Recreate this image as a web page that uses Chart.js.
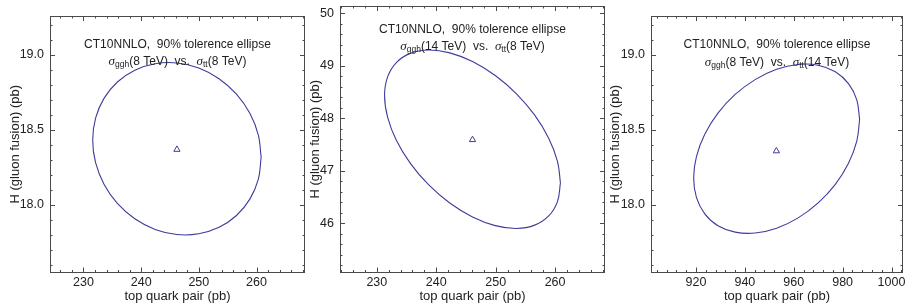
<!DOCTYPE html>
<html lang="en">
<head>
  <meta charset="UTF-8" />
  <title>CT10NNLO 90% tolerance ellipses</title>
  <script src="https://cdn.jsdelivr.net/npm/chart.js"></script>
  <style>
    body {
      margin: 0;
      background: #fff;
      width: 908px;
      height: 304px;
      overflow: hidden;
      position: relative;
    }
    .panel { position: absolute; top: 0; height: 304px; }
    #p1 { left: 0; width: 310px; }
    #p2 { left: 300px; width: 310px; }
    #p3 { left: 600px; width: 308px; }
  </style>
</head>
<body>

<div class="panel" id="p1"><canvas id="c1"></canvas></div>
<div class="panel" id="p2"><canvas id="c2"></canvas></div>
<div class="panel" id="p3"><canvas id="c3"></canvas></div>

<script>
  // panel 1: sigma_ggh(8 TeV) vs sigma_tt(8 TeV)
  const e1X = [260.80, 260.30, 258.84, 256.52, 253.50, 249.98, 246.20, 242.42, 238.90, 235.88, 233.56, 232.10,
               231.60, 232.10, 233.56, 235.88, 238.90, 242.42, 246.20, 249.98, 253.50, 256.52, 258.84, 260.30];
  const e1Y = [18.318, 18.468, 18.611, 18.739, 18.842, 18.913, 18.947, 18.942, 18.899, 18.820, 18.711, 18.579,
               18.432, 18.282, 18.139, 18.011, 17.908, 17.837, 17.803, 17.808, 17.851, 17.930, 18.039, 18.171];
  const c1 = [246.2, 18.37];

  // panel 2: sigma_ggh(14 TeV) vs sigma_tt(8 TeV)
  const e2X = [260.90, 260.40, 258.92, 256.57, 253.50, 249.93, 246.10, 242.27, 238.70, 235.64, 233.28, 231.81,
               231.30, 231.81, 233.28, 235.64, 238.70, 242.27, 246.10, 249.93, 253.50, 256.57, 258.92, 260.40];
  const e2Y = [46.767, 47.179, 47.620, 48.059, 48.467, 48.816, 49.082, 49.247, 49.300, 49.237, 49.062, 48.788,
               48.433, 48.021, 47.580, 47.141, 46.733, 46.384, 46.118, 45.953, 45.900, 45.963, 46.138, 46.412];
  const c2 = [246.1, 47.59];

  // panel 3: sigma_ggh(8 TeV) vs sigma_tt(14 TeV)
  const e3X = [986.95, 985.79, 982.40, 977.01, 969.98, 961.79, 953.00, 944.21, 936.03, 928.99, 923.60, 920.21,
               919.05, 920.21, 923.60, 928.99, 936.03, 944.21, 953.00, 961.79, 969.98, 977.01, 982.40, 985.79];
  const e3Y = [18.570, 18.701, 18.809, 18.888, 18.932, 18.937, 18.905, 18.836, 18.737, 18.612, 18.471, 18.324,
               18.180, 18.049, 17.941, 17.862, 17.819, 17.813, 17.845, 17.914, 18.014, 18.138, 18.279, 18.426];
  const c3 = [952.9, 18.36];

  // tick labels
  const xTicksTT8 = [230, 240, 250, 260];
  const xTicksTT14 = [920, 940, 960, 980, 1000];
  const yTicksH8 = [18.0, 18.5, 19.0];
  const yTicksH14 = [46, 47, 48, 49, 50];

  const titleLine1 = 'CT10NNLO,  90% tolerence ellipse';
  const xTitle = 'top quark pair (pb)';
  const yTitle = 'H (gluon fusion) (pb)';

  const BLUE = '#3d3d99';
  const FRAME = '#4a4a4a';
  const TEXT = '#222';
  const SANS = "'Liberation Sans', Arial, sans-serif";
  const SERIF = "'Liberation Serif', 'Times New Roman', serif";

  function steps(from, to, step) {
    const out = [];
    for (let v = from; v <= to + step / 1000; v += step) out.push(+v.toFixed(6));
    return out;
  }

  // frame with inward ticks on all four sides, plus the in-plot caption
  const framePlugin = {
    id: 'frame',
    afterDraw(chart, args, opts) {
      const {ctx, chartArea: a, scales: {x, y}} = chart;
      ctx.save();
      ctx.strokeStyle = FRAME;
      ctx.lineWidth = 1;
      const seg = (x0, y0, x1, y1) => { ctx.beginPath(); ctx.moveTo(x0, y0); ctx.lineTo(x1, y1); ctx.stroke(); };
      const drawX = (vals, len) => vals.forEach(v => {
        const p = Math.round(x.getPixelForValue(v)) + 0.5;
        if (p <= a.left + 1 || p >= a.right - 1) return;
        seg(p, a.bottom, p, a.bottom - len);
        seg(p, a.top, p, a.top + len);
      });
      const drawY = (vals, len) => vals.forEach(v => {
        const p = Math.round(y.getPixelForValue(v)) + 0.5;
        if (p <= a.top + 1 || p >= a.bottom - 1) return;
        seg(a.left, p, a.left + len, p);
        seg(a.right, p, a.right - len, p);
      });
      drawX(opts.xMinor, 2.5);
      drawX(opts.xMajor, 5);
      drawY(opts.yMinor, 2.5);
      drawY(opts.yMajor, 5);
      ctx.strokeRect(Math.round(a.left) + 0.5, Math.round(a.top) + 0.5,
                     Math.round(a.right - a.left) - 1, Math.round(a.bottom - a.top) - 1);

      // caption
      const cx = (a.left + a.right) / 2;
      ctx.fillStyle = TEXT;
      ctx.textBaseline = 'middle';
      ctx.textAlign = 'left';
      const main = '12px ' + SANS, sub = '8.5px ' + SANS, sig = 'italic 13px ' + SERIF;
      const parts1 = [[titleLine1, main, 0]];
      const parts2 = [['σ', sig, 0], ['ggh', sub, 3], ['(' + opts.ggh + ')  vs.  ', main, 0],
                      ['σ', sig, 0], ['tt', sub, 3], ['(' + opts.tt + ')', main, 0]];
      [[parts1, opts.line1], [parts2, opts.line2]].forEach(([parts, yy]) => {
        let w = 0;
        parts.forEach(p => { ctx.font = p[1]; w += ctx.measureText(p[0]).width; });
        let xx = cx - w / 2;
        parts.forEach(p => {
          ctx.font = p[1];
          ctx.fillText(p[0], xx, yy + p[2]);
          xx += ctx.measureText(p[0]).width;
        });
      });
      ctx.restore();
    }
  };

  function makePanel(id, cfg) {
    const pts = cfg.ex.map((v, i) => ({x: v, y: cfg.ey[i]}));
    pts.push(pts[0]);
    new Chart(document.getElementById(id), {
      type: 'scatter',
      data: {
        datasets: [
          {
            data: pts,
            showLine: true,
            borderColor: BLUE,
            borderWidth: 1.1,
            pointRadius: 0,
            tension: 0.38,
            fill: false
          },
          {
            data: [{x: cfg.c[0], y: cfg.c[1]}],
            pointStyle: 'triangle',
            pointRadius: 3.6,
            borderColor: BLUE,
            backgroundColor: 'rgba(0,0,0,0)',
            borderWidth: 1
          }
        ]
      },
      options: {
        responsive: true,
        maintainAspectRatio: false,
        animation: false,
        devicePixelRatio: 1,
        layout: { padding: { left: 0, right: cfg.padR, top: cfg.padT, bottom: 0 } },
        plugins: {
          legend: { display: false },
          tooltip: { enabled: false },
          frame: {
            xMajor: cfg.xt, xMinor: cfg.xMinor,
            yMajor: cfg.yt, yMinor: cfg.yMinor,
            ggh: cfg.ggh, tt: cfg.tt,
            line1: cfg.line1, line2: cfg.line2
          }
        },
        scales: {
          x: {
            type: 'linear',
            min: cfg.xr[0], max: cfg.xr[1],
            afterBuildTicks: s => { s.ticks = cfg.xt.map(v => ({value: v})); },
            afterFit: s => { s.height = 31.5; s.paddingLeft = 0; s.paddingRight = 0; },
            grid: { display: false, drawTicks: false },
            border: { display: false },
            ticks: {
              padding: 3, color: TEXT, maxRotation: 0, autoSkip: false,
              font: { family: SANS, size: 12.5 },
              callback: v => String(v)
            },
            title: { display: true, text: xTitle, color: TEXT, padding: 0, font: { family: SANS, size: 13 } }
          },
          y: {
            type: 'linear',
            min: cfg.yr[0], max: cfg.yr[1],
            afterBuildTicks: s => { s.ticks = cfg.yt.map(v => ({value: v})); },
            afterFit: s => { s.width = cfg.yw; s.paddingTop = 0; s.paddingBottom = 0; },
            grid: { display: false, drawTicks: false },
            border: { display: false },
            ticks: {
              padding: 6, color: TEXT, autoSkip: false,
              font: { family: SANS, size: 12.5 },
              callback: v => cfg.yFmt(v)
            },
            title: { display: true, text: yTitle, color: TEXT, padding: { top: 8, bottom: 0 }, font: { family: SANS, size: 13 } }
          }
        }
      },
      plugins: [framePlugin]
    });
  }

  makePanel('c1', {
    ex: e1X, ey: e1Y, c: c1,
    xr: [224.2, 268.4], yr: [17.55, 19.26],
    xt: xTicksTT8, xMinor: steps(226, 268, 2),
    yt: yTicksH8, yMinor: steps(17.6, 19.2, 0.1),
    yFmt: v => v.toFixed(1),
    yw: 50, padR: 3, padT: 16,
    ggh: '8 TeV', tt: '8 TeV', line1: 45, line2: 62
  });

  makePanel('c2', {
    ex: e2X, ey: e2Y, c: c2,
    xr: [223.8, 268.4], yr: [45.06, 50.14],
    xt: xTicksTT8, xMinor: steps(224, 268, 2),
    yt: yTicksH14, yMinor: steps(45.2, 50, 0.2),
    yFmt: v => String(v),
    yw: 40, padR: 3, padT: 6,
    ggh: '14 TeV', tt: '8 TeV', line1: 30, line2: 47
  });

  makePanel('c3', {
    ex: e3X, ey: e3Y, c: c3,
    xr: [901.6, 1004.7], yr: [17.55, 19.26],
    xt: xTicksTT14, xMinor: steps(904, 1004, 4),
    yt: yTicksH8, yMinor: steps(17.6, 19.2, 0.1),
    yFmt: v => v.toFixed(1),
    yw: 51, padR: 1, padT: 16,
    ggh: '8 TeV', tt: '14 TeV', line1: 45, line2: 62.5
  });
</script>

</body>
</html>
